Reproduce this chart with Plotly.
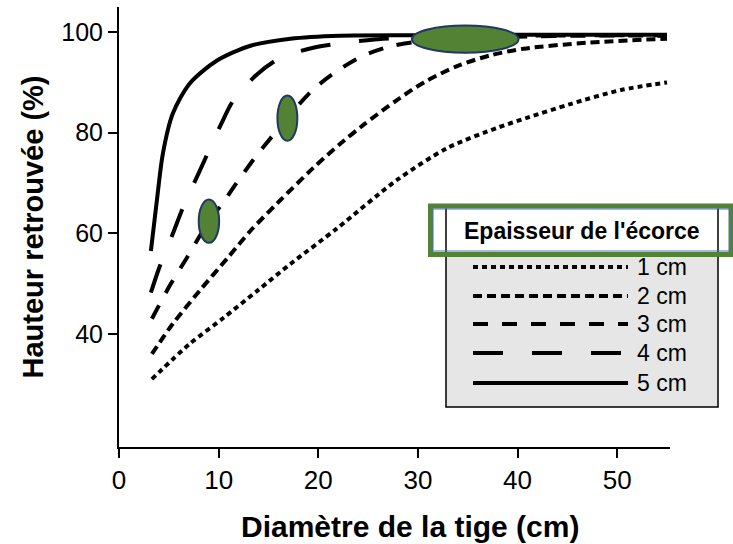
import plotly.graph_objects as go

# Recovered tree height (%) versus stem diameter (cm), one curve per bark thickness
bark_labels = ["1 cm", "2 cm", "3 cm", "4 cm", "5 cm"]

d_1cm = [3.3, 7.1, 10.5, 13.9, 17.2, 21.9, 27.9, 33.0, 38.0, 41.0, 45.3, 50.4, 55.0]
h_1cm = [31.0, 38.0, 43.2, 48.6, 53.9, 61.0, 70.6, 77.0, 81.0, 83.0, 85.7, 88.5, 90.0]

d_2cm = [3.3, 5.4, 8.1, 10.9, 13.2, 15.9, 19.5, 22.2, 24.5, 27.9, 30.6, 34.0, 37.3, 40.6, 47.0, 55.0]
h_2cm = [36.0, 42.0, 48.6, 55.1, 60.5, 66.0, 73.0, 77.8, 81.5, 86.5, 90.0, 93.3, 95.4, 96.7, 97.9, 98.7]

d_3cm = [3.3, 5.1, 6.8, 8.9, 10.4, 11.8, 13.7, 15.5, 16.9, 19.5, 21.9, 24.5, 27.5, 31.0, 35.0, 40.0, 47.0, 55.0]
h_3cm = [43.0, 49.6, 55.1, 62.0, 66.0, 70.0, 75.2, 79.6, 83.0, 88.6, 92.3, 95.3, 97.3, 98.3, 98.8, 99.1, 99.3, 99.3]

d_4cm = [3.2, 4.1, 5.4, 6.4, 8.1, 10.2, 11.5, 13.9, 16.2, 19.5, 21.9, 26.0, 30.0, 40.0, 55.0]
h_4cm = [48.2, 53.5, 59.9, 65.0, 72.4, 81.5, 86.5, 91.7, 94.9, 96.9, 97.7, 98.6, 99.0, 99.3, 99.4]

d_5cm = [3.2, 3.8, 4.4, 5.4, 7.1, 9.8, 13.2, 17.2, 22.2, 30.0, 40.0, 55.0]
h_5cm = [56.5, 66.5, 75.8, 83.8, 89.8, 94.3, 97.3, 98.7, 99.3, 99.4, 99.5, 99.5]

diameters = [d_1cm, d_2cm, d_3cm, d_4cm, d_5cm]
heights = [h_1cm, h_2cm, h_3cm, h_4cm, h_5cm]
dash_styles = ["5px,4px", "9px,5px", "15px,14px", "30px,29px", "solid"]

x_ticks = [0, 10, 20, 30, 40, 50]
y_ticks = [40, 60, 80, 100]

# Highlighted zones (diameter range, height range)
highlights = [
    ((8.0, 10.05), (58.1, 66.7)),
    ((15.9, 17.9), (78.4, 87.4)),
    ((29.4, 40.1), (95.9, 101.3)),
]

FONT = "Liberation Sans, Arial, sans-serif"
GREEN = "#548235"
NAVY = "#1f3864"

W, H = 733, 544
M_L, M_R, M_T, M_B = 119, 63, 7, 97
PLOT_W = W - M_L - M_R
PLOT_H = H - M_T - M_B

fig = go.Figure()
for d, h, dash, name in zip(diameters, heights, dash_styles, bark_labels):
    fig.add_trace(go.Scatter(
        x=d, y=h, mode="lines", name=name, showlegend=False,
        line=dict(color="black", width=4, dash=dash, shape="spline", smoothing=0.8),
    ))

shapes = []
for (x0, x1), (y0, y1) in highlights:
    shapes.append(dict(type="circle", xref="x", yref="y", x0=x0, x1=x1, y0=y0, y1=y1,
                       fillcolor=GREEN, line=dict(color=NAVY, width=2), layer="above"))


def px(x):
    # page pixel column -> paper fraction of the plotting area
    return (x - M_L) / PLOT_W


def py(y):
    # page pixel row -> paper fraction of the plotting area
    return (H - M_B - y) / PLOT_H


# Legend panel
shapes.append(dict(type="rect", xref="paper", yref="paper",
                   x0=px(446), x1=px(718), y0=py(407), y1=py(215),
                   fillcolor="#e6e6e6", line=dict(color="black", width=1.5), layer="above"))
shapes.append(dict(type="rect", xref="paper", yref="paper",
                   x0=px(432), x1=px(730), y0=py(253), y1=py(208),
                   fillcolor="white", line=dict(width=0), layer="above"))
for xv in (446, 718):
    shapes.append(dict(type="line", xref="paper", yref="paper",
                       x0=px(xv), x1=px(xv), y0=py(253), y1=py(208),
                       line=dict(color="black", width=1.5), layer="above"))
shapes.append(dict(type="rect", xref="paper", yref="paper",
                   x0=px(430.5), x1=px(731), y0=py(254.5), y1=py(206),
                   line=dict(color=GREEN, width=5), layer="above"))
shapes.append(dict(type="rect", xref="paper", yref="paper",
                   x0=px(433), x1=px(730), y0=py(251), y1=py(209),
                   line=dict(color="#4472c4", width=1), layer="above"))

legend_rows = [267, 296, 324, 353, 383]
annotations = [
    dict(text="<b>Epaisseur de l'écorce</b>", xref="paper", yref="paper",
         x=px(582), y=py(231), showarrow=False,
         font=dict(family=FONT, size=23, color="black"),
         xanchor="center", yanchor="middle"),
    # x-axis title
    dict(text="<b>Diamètre de la tige (cm)</b>", xref="paper", yref="paper",
         x=px(410), y=py(526), showarrow=False,
         font=dict(family=FONT, size=30, color="black"),
         xanchor="center", yanchor="middle"),
]
for row, dash, name in zip(legend_rows, dash_styles, bark_labels):
    shapes.append(dict(type="line", xref="paper", yref="paper",
                       x0=px(473), x1=px(628), y0=py(row), y1=py(row),
                       line=dict(color="black", width=4, dash=dash), layer="above"))
    annotations.append(dict(text=name, xref="paper", yref="paper",
                            x=px(635), y=py(row), showarrow=False,
                            font=dict(family=FONT, size=23, color="black"),
                            xanchor="left", yanchor="middle"))

fig.update_layout(
    width=W, height=H,
    margin=dict(l=M_L, r=M_R, t=M_T, b=M_B),
    paper_bgcolor="white", plot_bgcolor="white",
    font=dict(family=FONT, color="black"),
    shapes=shapes, annotations=annotations,
    xaxis=dict(
        range=[0, 55.3], tickvals=x_ticks, showgrid=False, zeroline=False,
        showline=True, linecolor="black", linewidth=2,
        ticks="outside", ticklen=9, tickwidth=2, tickcolor="black",
        tickfont=dict(family=FONT, size=26, color="black"),
    ),
    yaxis=dict(
        range=[17.5, 105], tickvals=y_ticks, showgrid=False, zeroline=False,
        showline=True, linecolor="black", linewidth=2,
        ticks="outside", ticklen=9, tickwidth=2, tickcolor="black",
        tickfont=dict(family=FONT, size=25, color="black"),
        title=dict(text="Hauteur retrouvée (%)", standoff=9,
                   font=dict(family=FONT, size=29, color="black", weight="bold")),
    ),
)

fig.write_html("out.html")
